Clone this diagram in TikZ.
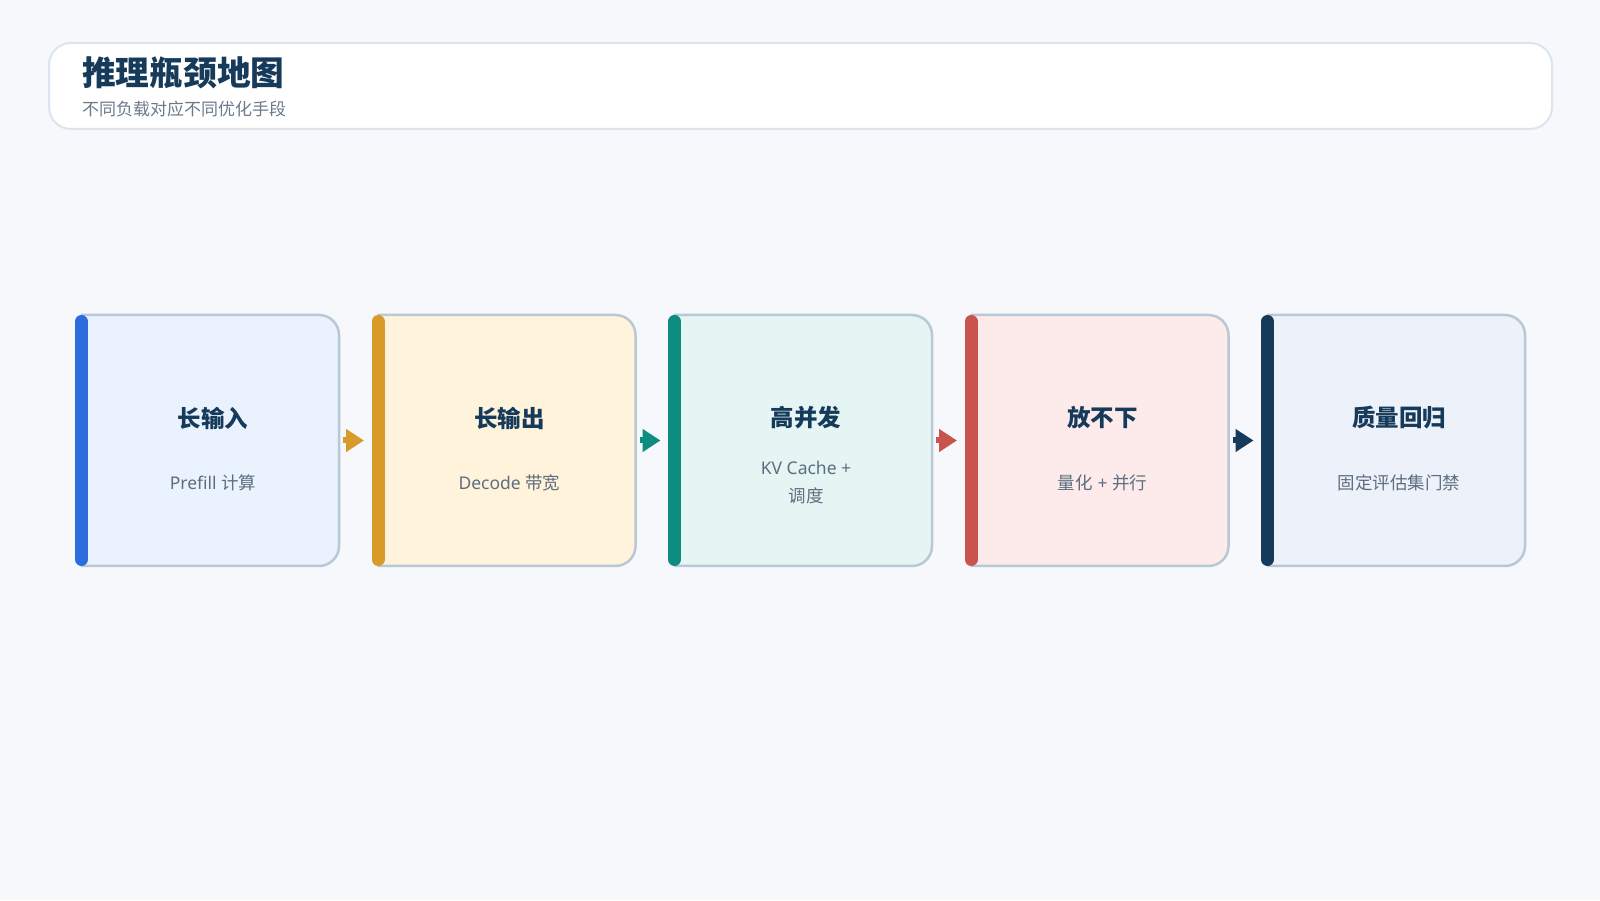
\documentclass[tikz,border=0pt]{standalone}
\usepackage{fontspec}
\setmainfont{Noto Sans CJK SC}
\newfontfamily\latinfont{Noto Sans}
\usetikzlibrary{arrows.meta}
\definecolor{bg}{HTML}{F6F8FC}
\definecolor{headborder}{HTML}{DCE5EE}
\definecolor{border}{HTML}{B9C8D7}
\definecolor{navy}{HTML}{163A5A}
\definecolor{subgray}{HTML}{5E6E7F}
\definecolor{headsub}{HTML}{6B7A8B}
\definecolor{k1}{HTML}{2D6CDF}\definecolor{f1}{HTML}{EAF2FE}
\definecolor{k2}{HTML}{D99A2C}\definecolor{f2}{HTML}{FFF3DB}
\definecolor{k3}{HTML}{0E8C80}\definecolor{f3}{HTML}{E5F5F3}
\definecolor{k4}{HTML}{C9534D}\definecolor{f4}{HTML}{FDEBEB}
\definecolor{k5}{HTML}{163A5A}\definecolor{f5}{HTML}{EDF1FA}
\begin{document}
\begin{tikzpicture}[x=1pt,y=1pt,
  cardbox/.style={minimum width=258pt,minimum height=251pt,inner sep=0pt,outer sep=0pt},
  cardborder/.style={draw=border,line width=2.5pt},
  barline/.style={line width=13pt,line cap=round},
  ctitle/.style={font=\fontsize{23.5}{28}\selectfont\bfseries,text=navy,inner sep=0pt},
  csub/.style={font=\fontsize{17.5}{28}\selectfont,text=subgray,align=center,inner sep=0pt},
  flow/.style={line width=6pt,-{Triangle[length=18pt,width=22pt]},shorten <=4pt,shorten >=13.5pt}
]
\fill[bg] (0,0) rectangle (1600,900);
\useasboundingbox (0,0) rectangle (1600,900);
\draw[fill=white,draw=headborder,line width=2pt,rounded corners=22pt] (49,771) rectangle (1552,857);
\node[anchor=west,inner sep=0pt,font=\fontsize{33.7}{40}\selectfont\bfseries,text=navy] (title) at (82,827) {推理瓶颈地图};
\node[anchor=west,inner sep=0pt,font=\fontsize{17}{20}\selectfont,text=headsub] (subtitle) at (82,791) {不同负载对应不同优化手段};
\foreach \i/\x/\fc/\bc/\t/\s in {
  1/75/f1/k1/长输入/{{\latinfont Prefill }计算},
  2/371.5/f2/k2/长输出/{{\latinfont Decode }带宽},
  3/668/f3/k3/高并发/{{\latinfont KV Cache +}\\调度},
  4/964.5/f4/k4/放不下/{量化{\latinfont\ + }并行},
  5/1261/f5/k5/质量回归/{固定评估集门禁}}{
  \node[cardbox] (b\i) at (\x+135,459.5) {};
  \draw[cardborder,fill=\fc] (b\i.north west) -- ([xshift=-20pt]b\i.north east)
     arc[start angle=90,end angle=0,radius=20pt] -- ([yshift=20pt]b\i.south east)
     arc[start angle=0,end angle=-90,radius=20pt] -- (b\i.south west);
  \draw[barline,draw=\bc] ([xshift=0.5pt,yshift=-6.5pt]b\i.north west) -- ([xshift=0.5pt,yshift=6.5pt]b\i.south west);
  \node[ctitle] (t\i) at ([xshift=3pt,yshift=22.5pt]b\i.center) {\t};
  \node[csub] (s\i) at ([xshift=3pt,yshift=-42.5pt]b\i.center) {\s};
}
\foreach \i/\j/\c in {1/2/k2,2/3/k3,3/4/k4,4/5/k5}{
  \draw[flow,draw=\c,fill=\c] (b\i.east) -- (b\j.west);
}
\end{tikzpicture}
\end{document}
